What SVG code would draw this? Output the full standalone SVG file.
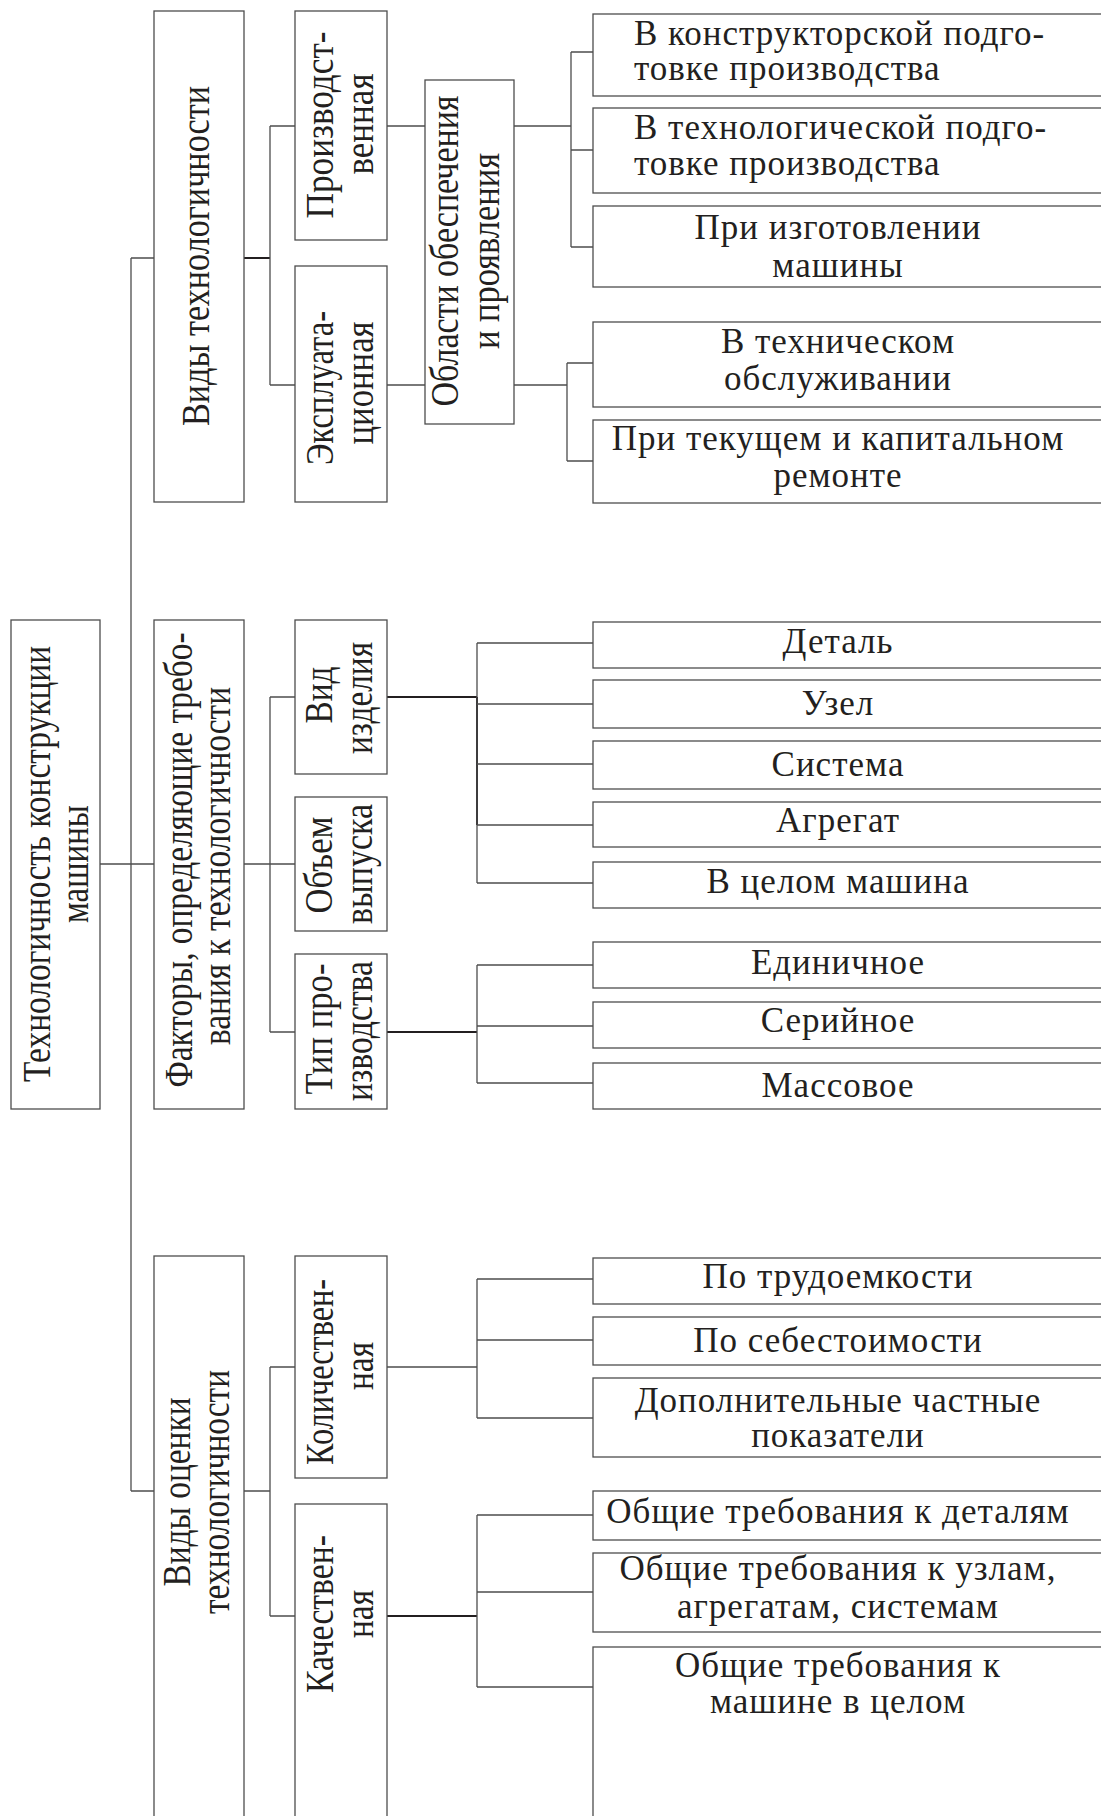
<svg xmlns="http://www.w3.org/2000/svg" width="1101" height="1816" viewBox="0 0 1101 1816">
<style>
.box{fill:#fff;stroke:#4d4d4d;stroke-width:1.3}
.ln{fill:none;stroke:#4d4d4d;stroke-width:1.3}
.bd{fill:none;stroke:#231f20;stroke-width:2}
text{font-family:"Liberation Serif","Times New Roman",serif;fill:#231f20}
.h{font-size:35px;letter-spacing:1px;text-anchor:middle}
.hl{font-size:35px;letter-spacing:1px;text-anchor:start}
.v{font-size:39px;text-anchor:middle}
</style>
<rect width="1101" height="1816" fill="#fff"/>
<g id="connectors">
<path class="ln" d="M131 258V1491M131 258H154M100 864H154M131 1491H154"/>
<path class="bd" d="M244 258H270"/>
<path class="ln" d="M270 126V385M270 126H295M270 385H295M387 126H425M387 385H425"/>
<path class="ln" d="M514 126H571M571 52V247M571 52H593M571 150H593M571 247H593"/>
<path class="ln" d="M514 385H567M567 363V461M567 363H593M567 461H593"/>
<path class="ln" d="M244 864H270M270 697V1032M270 697H295M270 864H295M270 1032H295"/>
<path class="bd" d="M387 697H477M477 697V825"/>
<path class="ln" d="M477 643V883M477 643H593M477 704H593M477 764H593M477 825H593M477 883H593"/>
<path class="bd" d="M387 1032H477"/>
<path class="ln" d="M477 965V1083M477 965H593M477 1026H593M477 1083H593"/>
<path class="ln" d="M244 1491H270M270 1367V1616M270 1367H295M270 1616H295"/>
<path class="ln" d="M387 1367H477M477 1279V1418M477 1279H593M477 1340H593M477 1418H593"/>
<path class="bd" d="M387 1616H477"/>
<path class="ln" d="M477 1515V1687M477 1515H593M477 1592H593M477 1687H593"/>
</g>
<g id="root"><rect class="box" x="11" y="620" width="89" height="489"/>
<text class="v" transform="translate(50,864) rotate(-90)" textLength="436" lengthAdjust="spacingAndGlyphs">Технологичность конструкции</text>
<text class="v" transform="translate(88,864) rotate(-90)" textLength="118" lengthAdjust="spacingAndGlyphs">машины</text></g>
<g id="vidy"><rect class="box" x="154" y="11" width="90" height="491"/>
<text class="v" transform="translate(209,256) rotate(-90)" textLength="340" lengthAdjust="spacingAndGlyphs">Виды технологичности</text></g>
<g id="faktory"><rect class="box" x="154" y="620" width="90" height="489"/>
<text class="v" transform="translate(192,860) rotate(-90)" textLength="455" lengthAdjust="spacingAndGlyphs">Факторы, определяющие требо-</text>
<text class="v" transform="translate(230,866) rotate(-90)" textLength="358" lengthAdjust="spacingAndGlyphs">вания к технологичности</text></g>
<g id="ocenka"><rect class="box" x="154" y="1256" width="90" height="570"/>
<text class="v" transform="translate(190,1492) rotate(-90)" textLength="189" lengthAdjust="spacingAndGlyphs">Виды оценки</text>
<text class="v" transform="translate(229,1492) rotate(-90)" textLength="244" lengthAdjust="spacingAndGlyphs">технологичности</text></g>
<g id="proizv"><rect class="box" x="295" y="11" width="92" height="229"/>
<text class="v" transform="translate(333,125) rotate(-90)" textLength="187" lengthAdjust="spacingAndGlyphs">Производст-</text>
<text class="v" transform="translate(373,124) rotate(-90)" textLength="101" lengthAdjust="spacingAndGlyphs">венная</text></g>
<g id="ekspl"><rect class="box" x="295" y="266" width="92" height="236"/>
<text class="v" transform="translate(333,388) rotate(-90)" textLength="154" lengthAdjust="spacingAndGlyphs">Эксплуата-</text>
<text class="v" transform="translate(373,383) rotate(-90)" textLength="123" lengthAdjust="spacingAndGlyphs">ционная</text></g>
<g id="oblasti"><rect class="box" x="425" y="80" width="89" height="344"/>
<text class="v" transform="translate(458,251) rotate(-90)" textLength="311" lengthAdjust="spacingAndGlyphs">Области обеспечения</text>
<text class="v" transform="translate(499,251) rotate(-90)" textLength="196" lengthAdjust="spacingAndGlyphs">и проявления</text></g>
<g id="vid"><rect class="box" x="295" y="620" width="92" height="154"/>
<text class="v" transform="translate(332,695) rotate(-90)" textLength="57" lengthAdjust="spacingAndGlyphs">Вид</text>
<text class="v" transform="translate(372,698) rotate(-90)" textLength="112" lengthAdjust="spacingAndGlyphs">изделия</text></g>
<g id="obem"><rect class="box" x="295" y="797" width="92" height="134"/>
<text class="v" transform="translate(332,865) rotate(-90)" textLength="97" lengthAdjust="spacingAndGlyphs">Объем</text>
<text class="v" transform="translate(372,864) rotate(-90)" textLength="120" lengthAdjust="spacingAndGlyphs">выпуска</text></g>
<g id="tip"><rect class="box" x="295" y="954" width="92" height="155"/>
<text class="v" transform="translate(332,1029) rotate(-90)" textLength="131" lengthAdjust="spacingAndGlyphs">Тип про-</text>
<text class="v" transform="translate(372,1031) rotate(-90)" textLength="140" lengthAdjust="spacingAndGlyphs">изводства</text></g>
<g id="kolich"><rect class="box" x="295" y="1256" width="92" height="222"/>
<text class="v" transform="translate(333,1372) rotate(-90)" textLength="186" lengthAdjust="spacingAndGlyphs">Количествен-</text>
<text class="v" transform="translate(373,1366) rotate(-90)" textLength="48" lengthAdjust="spacingAndGlyphs">ная</text></g>
<g id="kachest"><rect class="box" x="295" y="1504" width="92" height="322"/>
<text class="v" transform="translate(333,1614) rotate(-90)" textLength="158" lengthAdjust="spacingAndGlyphs">Качествен-</text>
<text class="v" transform="translate(373,1614) rotate(-90)" textLength="48" lengthAdjust="spacingAndGlyphs">ная</text></g>
<g id="r1"><rect class="box" x="593" y="14" width="520" height="82"/>
<text class="hl" x="634" y="45">В конструкторской подго-</text>
<text class="hl" x="634" y="80">товке производства</text></g>
<g id="r2"><rect class="box" x="593" y="108" width="520" height="85"/>
<text class="hl" x="634" y="139">В технологической подго-</text>
<text class="hl" x="634" y="175">товке производства</text></g>
<g id="r3"><rect class="box" x="593" y="206" width="520" height="81"/>
<text class="h" x="838" y="239">При изготовлении</text>
<text class="h" x="838" y="277">машины</text></g>
<g id="r4"><rect class="box" x="593" y="322" width="520" height="85"/>
<text class="h" x="838" y="353">В техническом</text>
<text class="h" x="838" y="390">обслуживании</text></g>
<g id="r5"><rect class="box" x="593" y="420" width="520" height="83"/>
<text class="h" x="838" y="450">При текущем и капитальном</text>
<text class="h" x="838" y="487">ремонте</text></g>
<g id="r6"><rect class="box" x="593" y="622" width="520" height="46"/><text class="h" x="838" y="653">Деталь</text></g>
<g id="r7"><rect class="box" x="593" y="680" width="520" height="48"/><text class="h" x="838" y="715">Узел</text></g>
<g id="r8"><rect class="box" x="593" y="741" width="520" height="48"/><text class="h" x="838" y="776">Система</text></g>
<g id="r9"><rect class="box" x="593" y="802" width="520" height="45"/><text class="h" x="838" y="832">Агрегат</text></g>
<g id="r10"><rect class="box" x="593" y="862" width="520" height="46"/><text class="h" x="838" y="893">В целом машина</text></g>
<g id="r11"><rect class="box" x="593" y="942" width="520" height="46"/><text class="h" x="838" y="974">Единичное</text></g>
<g id="r12"><rect class="box" x="593" y="1002" width="520" height="46"/><text class="h" x="838" y="1032">Серийное</text></g>
<g id="r13"><rect class="box" x="593" y="1063" width="520" height="46"/><text class="h" x="838" y="1097">Массовое</text></g>
<g id="r14"><rect class="box" x="593" y="1258" width="520" height="46"/><text class="h" x="838" y="1288">По трудоемкости</text></g>
<g id="r15"><rect class="box" x="593" y="1317" width="520" height="48"/><text class="h" x="838" y="1352">По себестоимости</text></g>
<g id="r16"><rect class="box" x="593" y="1378" width="520" height="79"/>
<text class="h" x="838" y="1412">Дополнительные частные</text>
<text class="h" x="838" y="1447">показатели</text></g>
<g id="r17"><rect class="box" x="593" y="1491" width="520" height="49"/><text class="h" x="838" y="1523">Общие требования к деталям</text></g>
<g id="r18"><rect class="box" x="593" y="1553" width="520" height="79"/>
<text class="h" x="838" y="1580">Общие требования к узлам,</text>
<text class="h" x="838" y="1618">агрегатам, системам</text></g>
<g id="r19"><rect class="box" x="593" y="1647" width="520" height="180"/>
<text class="h" x="838" y="1677">Общие требования к</text>
<text class="h" x="838" y="1713">машине в целом</text></g>
</svg>
